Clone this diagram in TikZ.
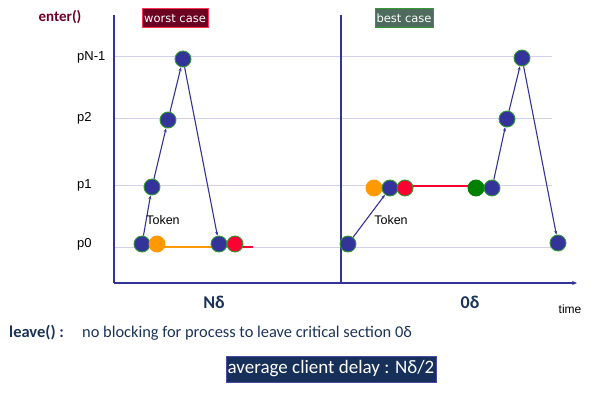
\documentclass[tikz,border=0pt]{standalone}
\usepackage{fontspec}
\setmainfont{Carlito}
\newfontfamily\arialf{Liberation Sans}
\newfontfamily\dejaf{DejaVu Sans}
\usetikzlibrary{arrows.meta}
\definecolor{axisblue}{HTML}{333399}
\definecolor{gridc}{HTML}{D0D0EA}
\definecolor{dotgreen}{HTML}{339933}
\definecolor{orangec}{HTML}{FF9900}
\definecolor{redc}{HTML}{FF0033}
\definecolor{greenc}{HTML}{008000}
\definecolor{maroonc}{HTML}{6E0028}
\definecolor{worstfill}{HTML}{6B0020}
\definecolor{worstdraw}{HTML}{FF3355}
\definecolor{bestfill}{HTML}{4F6B5E}
\definecolor{navy}{HTML}{1B3358}
\definecolor{boxfill}{HTML}{17305A}
\definecolor{boxdraw}{HTML}{4A4AA8}
\begin{document}
\begin{tikzpicture}[x=1pt,y=-1pt,
  dot/.style={circle,minimum size=16pt,inner sep=0pt,draw=dotgreen,line width=0.9pt,fill=axisblue},
  odot/.style={dot,fill=orangec,draw=orangec},
  rdot/.style={dot,fill=redc},
  gdot/.style={dot,fill=greenc},
  axis/.style={draw=axisblue,line width=1.3pt},
  gridline/.style={draw=gridc,line width=1pt},
  tok/.style={draw=axisblue,line width=1.1pt,-{Stealth[length=4pt,width=3pt]}},
  plabel/.style={font=\arialf\fontsize{13}{15}\selectfont,anchor=west,inner sep=0pt},
  casebox/.style={font=\dejaf\fontsize{11.5}{13}\selectfont,text=white,minimum width=66pt,minimum height=19pt,inner sep=0pt,line width=1pt}
]
\useasboundingbox (0,0) rectangle (609,401);
% grid lines
\foreach \yy in {57,118,185,247} \draw[gridline] (114,\yy) -- (552,\yy);
% axes
\coordinate (o) at (114,283);
\coordinate (ytop) at (114,15);
\coordinate (xend) at (577,283);
\coordinate (mbot) at (341,283);
\coordinate (mtop) at (341,15);
\draw[axis] (ytop) -- (o);
\draw[axis,-{Stealth[length=5pt,width=4pt]}] (o) -- (xend);
\draw[axis] (mtop) -- (mbot);
% labels
\node[plabel] (lN) at (77,57) {pN-1};
\node[plabel] (l2) at (77,118) {p2};
\node[plabel] (l1) at (77,185) {p1};
\node[plabel] (l0) at (77,244) {p0};
\node[font=\bfseries\fontsize{15}{17}\selectfont,text=maroonc] (enter) at (60,17) {enter()};
\node[casebox,fill=worstfill,draw=worstdraw] (worst) at (175,18.5) {worst case};
\node[casebox,fill=bestfill,draw=dotgreen,minimum width=58pt] (best) at (404,18.5) {best case};
% left side
\draw[orangec,line width=2pt] (157,246.5) -- (219,246.5);
\draw[redc,line width=2pt] (235,246.5) -- (253,246.5);
\node[dot] (a0) at (142,244) {};
\node[odot] (a1) at (157,244) {};
\node[dot] (a2) at (152,187) {};
\node[dot] (a3) at (168,120) {};
\node[dot] (a4) at (183,59) {};
\node[dot] (a5) at (219,244) {};
\node[rdot] (a6) at (235,244) {};
\draw[tok] (a0) -- (a2);
\draw[tok] (a2) -- (a3);
\draw[tok] (a3) -- (a4);
\draw[tok] (a4) -- (a5);
\node[font=\arialf\fontsize{12.5}{14}\selectfont] (tokL) at (163,220) {Token};
% right side
\draw[redc,line width=2pt] (405,185.5) -- (476,185.5);
\node[dot] (b0) at (348,244) {};
\node[odot] (b1) at (374,188) {};
\node[dot] (b2) at (390,188) {};
\node[rdot] (b3) at (405,188) {};
\node[gdot,draw=greenc] (b4) at (476,188) {};
\node[dot] (b5) at (492,188) {};
\node[dot] (b6) at (507,119) {};
\node[dot] (b7) at (522,58) {};
\node[dot] (b8) at (558,243) {};
\draw[tok] (b0) -- (b2);
\draw[tok] (b5) -- (b6);
\draw[tok] (b6) -- (b7);
\draw[tok] (b7) -- (b8);
\node[font=\arialf\fontsize{12.5}{14}\selectfont] (tokR) at (391,220) {Token};
% bottom
\node[font=\bfseries\fontsize{18}{20}\selectfont,text=navy] (nd) at (214,302) {Nδ};
\node[font=\bfseries\fontsize{18}{20}\selectfont,text=navy] (zd) at (470,302) {0δ};
\node[font=\arialf\fontsize{12}{14}\selectfont] (time) at (570,309) {time};
\node[font=\bfseries\fontsize{16.5}{18}\selectfont,text=navy,anchor=west,inner sep=0pt] (leave) at (9,333) {leave() :};
\node[font=\fontsize{16.4}{18}\selectfont,text=navy,anchor=west,inner sep=0pt] (noblock) at (82,333) {no blocking for process to leave critical section 0δ};
\node[font=\fontsize{19}{21}\selectfont,text=white,fill=boxfill,draw=boxdraw,line width=1pt,minimum width=210pt,minimum height=26pt,inner sep=0pt] (avg) at (331,369) {average client delay : Nδ/2};
\end{tikzpicture}
\end{document}
